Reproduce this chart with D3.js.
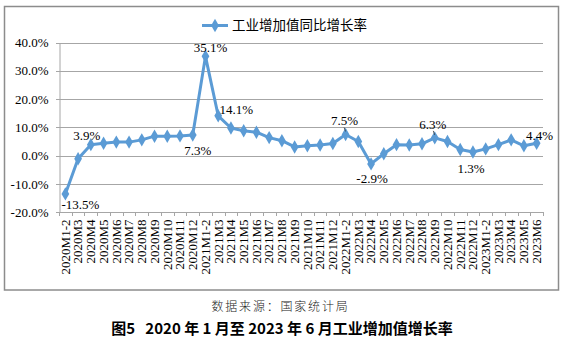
<!DOCTYPE html>
<html><head><meta charset="utf-8">
<script src="https://cdn.jsdelivr.net/npm/d3@7"></script>
<style>
html,body{margin:0;padding:0;background:#fff;}
svg{display:block;}
</style></head>
<body>
<svg id="c" width="566" height="349"></svg>
<script>
const categories = ["2020M1-2","2020M3","2020M4","2020M5","2020M6","2020M7","2020M8","2020M9","2020M10","2020M11","2020M12",
"2021M1-2","2021M3","2021M4","2021M5","2021M6","2021M7","2021M8","2021M9","2021M10","2021M11","2021M12",
"2022M1-2","2022M3","2022M4","2022M5","2022M6","2022M7","2022M8","2022M9","2022M10","2022M11","2022M12",
"2023M1-2","2023M3","2023M4","2023M5","2023M6"];
const values = [-13.5,-1.1,3.9,4.4,4.8,4.8,5.6,6.9,6.9,7.0,7.3,
35.1,14.1,9.8,8.8,8.3,6.4,5.3,3.1,3.5,3.8,4.3,
7.5,5.0,-2.9,0.7,3.9,3.8,4.2,6.3,5.0,2.2,1.3,
2.4,3.9,5.6,3.5,4.4];
const yTicks = [-20,-10,0,10,20,30,40];
const seriesName = "工业增加值同比增长率";
const labeledCategories = ["2020M1-2","2020M4","2020M12","2021M1-2","2021M3","2022M1-2","2022M4","2022M9","2022M12","2023M6"];
const sourceText = "数据来源：国家统计局";
const titleText = "图5\u00a0\u00a0\u00a02020 年 1 月至 2023 年 6 月工业增加值增长率";

const svg = d3.select("#c");
const color = "#5B9BD5";
const serif = "'Liberation Serif','Times New Roman',serif";
const cjk = "'Noto Sans CJK SC',sans-serif";

// chart frame
svg.append("rect").attr("x",4.5).attr("y",6.5).attr("width",554).attr("height",283.5)
  .attr("fill","#fff").attr("stroke","#8c8c8c").attr("stroke-width",1.5);

const x = d3.scaleBand().domain(categories).range([59,543]).paddingInner(0).paddingOuter(0);
const y = d3.scaleLinear().domain([-20,40]).range([212.3,42.5]);

// gridlines
svg.append("g").selectAll("line").data(yTicks).join("line")
  .attr("x1",56).attr("x2",543)
  .attr("y1",d=>Math.round(y(d))+0.5).attr("y2",d=>Math.round(y(d))+0.5)
  .attr("stroke","#a6a6a6").attr("stroke-width",1);

// y axis
const ya = svg.append("g").attr("transform","translate(59.5,0)")
  .call(d3.axisLeft(y).tickValues(yTicks).tickFormat(d=>d.toFixed(1)+"%").tickSize(0).tickPadding(11));
ya.select(".domain").attr("stroke","#a6a6a6");
ya.selectAll("text").attr("font-family",serif).attr("font-size",13).attr("fill","#000");

// x axis
const xa = svg.append("g").attr("transform",`translate(0,${Math.round(y(-20))+0.5})`)
  .call(d3.axisBottom(x).tickSize(0).tickPadding(0));
xa.select(".domain").attr("stroke","#a6a6a6").attr("d","M59,0H543");
xa.selectAll("text").attr("font-family",serif).attr("font-size",13).attr("fill","#000")
  .attr("text-anchor","end").attr("transform","rotate(-90)").attr("x",-7).attr("y",0).attr("dy","0.33em");
// band-boundary tick marks
const bounds = categories.map(c=>x(c)).concat([x.range()[1]]);
svg.append("g").selectAll("line").data(bounds).join("line")
  .attr("x1",d=>Math.round(d)+0.5).attr("x2",d=>Math.round(d)+0.5)
  .attr("y1",Math.round(y(-20))).attr("y2",Math.round(y(-20))+4)
  .attr("stroke","#a6a6a6");

// line
const cx = (c)=>x(c)+x.bandwidth()/2;
const line = d3.line().x((d,i)=>cx(categories[i])).y(d=>y(d));
svg.append("path").datum(values).attr("d",line).attr("fill","none")
  .attr("stroke",color).attr("stroke-width",3).attr("stroke-linejoin","round");
const diamond = d3.symbol().type(d3.symbolDiamond).size(52);
svg.append("g").selectAll("path").data(values).join("path")
  .attr("d",diamond).attr("transform",(d,i)=>`translate(${cx(categories[i])},${y(d)})`)
  .attr("fill",color);

// data labels
const place = {
  "2020M1-2":[15,11], "2020M4":[-4,-9], "2020M12":[5,15], "2021M1-2":[5,-9],
  "2021M3":[18,-6], "2022M1-2":[-1,-14], "2022M4":[1,15], "2022M9":[-2,-13],
  "2022M12":[-2,16], "2023M6":[3,-8]
};
const leaders = {"2022M1-2":true,"2022M9":true};
const lg = svg.append("g");
labeledCategories.forEach(c=>{
  const i = categories.indexOf(c), v = values[i];
  const px = cx(c), py = y(v), o = place[c];
  lg.append("text").attr("x",px+o[0]).attr("y",py+o[1]).attr("dy","0.35em")
    .attr("text-anchor","middle").attr("font-family",serif).attr("font-size",13)
    .text(v.toFixed(1)+"%");
  if(leaders[c]) lg.append("line").attr("x1",px-1.5).attr("y1",py-7).attr("x2",px).attr("y2",py-3)
    .attr("stroke","#333").attr("stroke-width",0.8);
});

// legend
const lgY = 25.5;
svg.append("line").attr("x1",202).attr("x2",228).attr("y1",lgY).attr("y2",lgY)
  .attr("stroke",color).attr("stroke-width",3);
svg.append("path").attr("d",diamond).attr("transform",`translate(215,${lgY})`).attr("fill",color);
svg.append("text").attr("x",232).attr("y",lgY).attr("dy","0.36em")
  .attr("font-family",cjk).attr("font-size",13.5).attr("fill","#000").text(seriesName);

// source & title
svg.append("text").attr("x",280.5).attr("y",306.5).attr("dy","0.36em").attr("text-anchor","middle")
  .attr("font-family",cjk).attr("font-size",12).attr("font-weight",300).attr("letter-spacing",1.8)
  .attr("fill","#222").text(sourceText);
svg.append("text").attr("x",282).attr("y",329).attr("dy","0.36em").attr("text-anchor","middle")
  .attr("font-family",cjk).attr("font-size",15).attr("font-weight",700).attr("fill","#000")
  .text(titleText);
</script>
</body></html>
